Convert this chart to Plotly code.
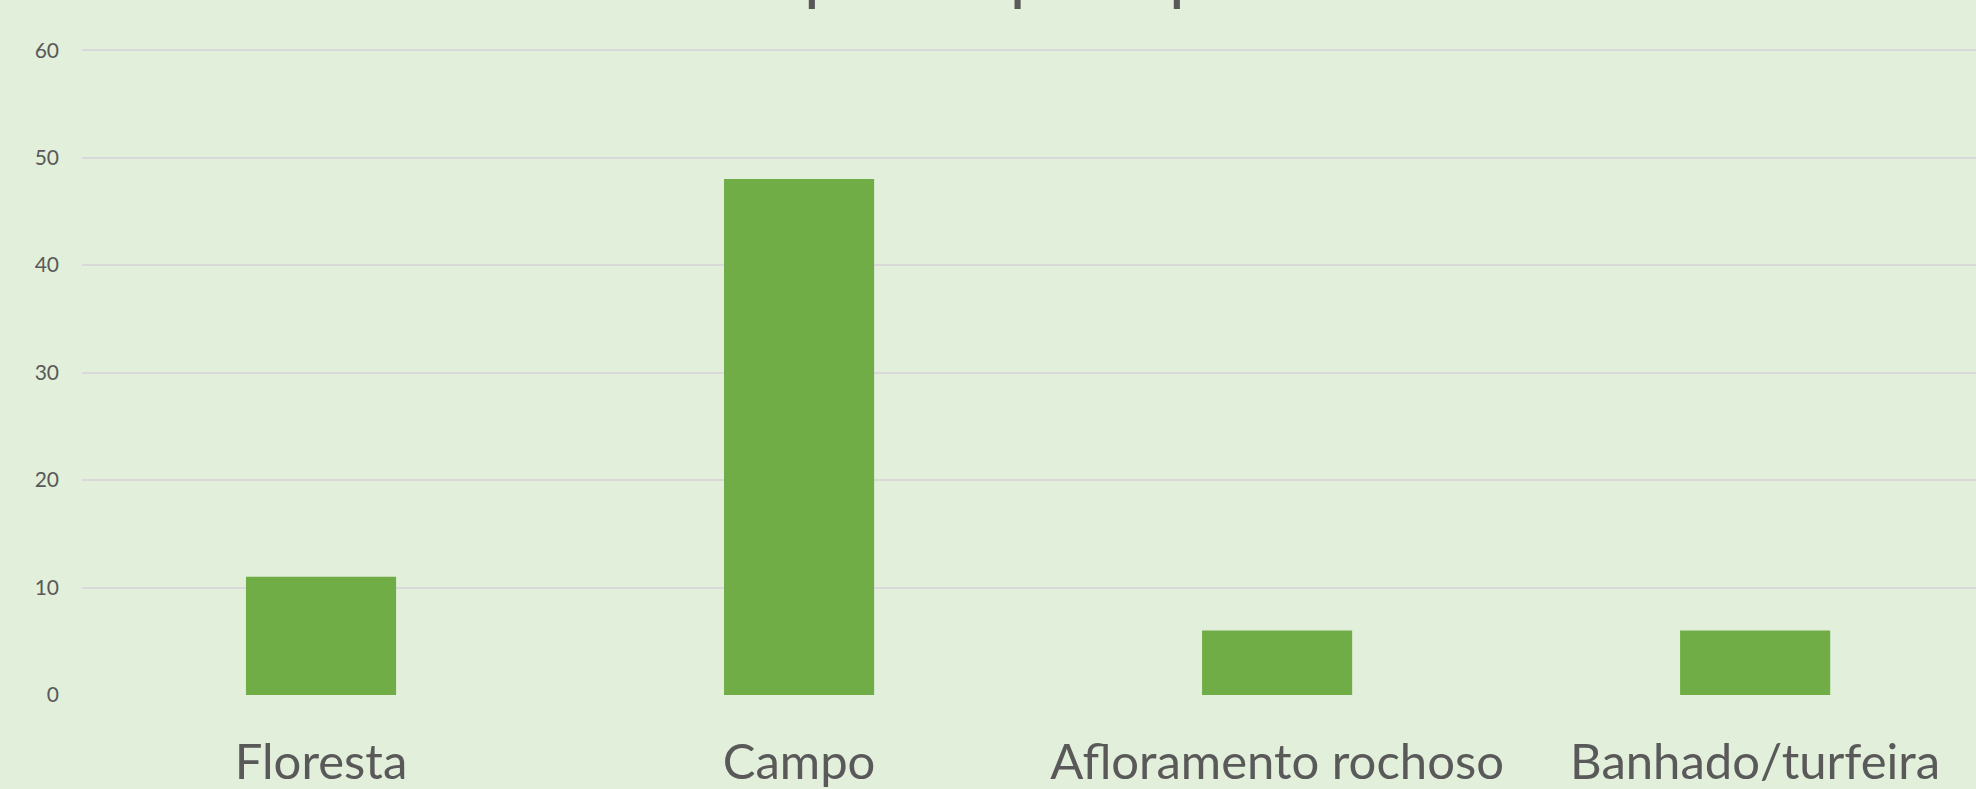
import plotly.graph_objects as go

categories = ["Floresta", "Campo", "Afloramento rochoso", "Banhado/turfeira"]
values = [11, 48, 6, 6]
y_ticks = [0, 10, 20, 30, 40, 50, 60]
title_text = "Número de espécies por tipo de ambiente"

BG = "#E2EFDA"
BAR = "#70AD47"
GRID = "#D9D9D9"
TXT = "#595959"
FONT = "Lato"

fig = go.Figure(go.Bar(x=categories, y=values, marker=dict(color=BAR, line=dict(width=0))))

fig.update_layout(
    width=1976, height=789,
    paper_bgcolor=BG, plot_bgcolor=BG,
    margin=dict(l=82, r=0, t=48, b=92, pad=0),
    bargap=0.686,
    showlegend=False,
    font=dict(family=FONT, color=TXT),
)
fig.update_xaxes(
    type="category",
    range=[-0.5, 3.462],
    showgrid=False, showline=False, zeroline=False,
    ticks="", tickfont=dict(size=49, color=TXT, family=FONT),
    ticklabelstandoff=34,
)
fig.update_yaxes(
    range=[0, 60.2], tickvals=y_ticks,
    showgrid=True, gridcolor=GRID, gridwidth=2,
    zeroline=False, showline=False, ticks="",
    tickfont=dict(size=21, color=TXT, family=FONT),
    ticklabelstandoff=22,
)
fig.add_annotation(
    text=title_text, xref="paper", yref="paper",
    x=(1009 - 82) / 1894, y=(697 - 13) / 649,
    xanchor="center", yanchor="bottom", showarrow=False,
    font=dict(size=68, color=TXT, family=FONT),
)
fig.write_html(
    "out.html",
    config={"displayModeBar": False},
    post_script="document.body.style.margin='0';document.body.style.overflow='hidden';",
)
